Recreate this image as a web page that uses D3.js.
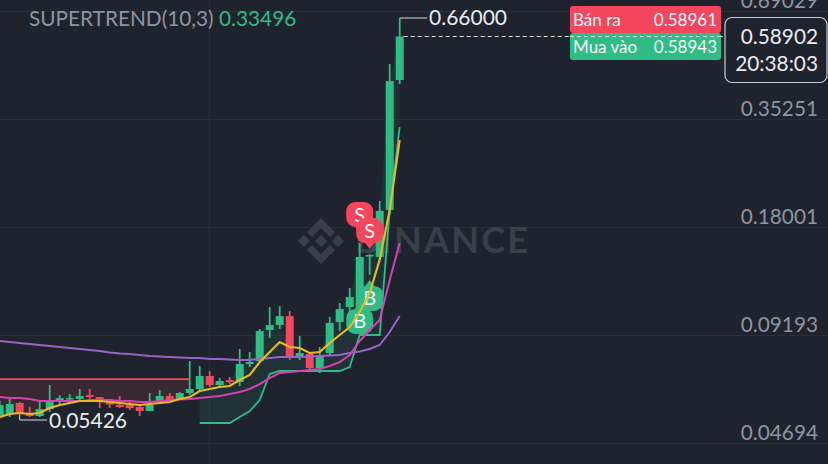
<!DOCTYPE html>
<html>
<head>
<meta charset="utf-8">
<script src="https://cdnjs.cloudflare.com/ajax/libs/d3/7.8.5/d3.min.js"></script>
<style>
html,body{margin:0;padding:0;background:#1f232d;overflow:hidden}
text{font-family:"Lato",sans-serif}
</style>
</head>
<body>
<div id="chart"></div>
<script>
var width = 828;
var height = 464;

var tickLabels = [0.69029, 0.35251, 0.18001, 0.09193, 0.04694];

// candles, oldest first
var opens = [.05587,.05622,.0602,.05622,.05552,.05799,.06133,.06171,.06171,.06326,.06248,.0602,.05945,.05945,.05871,.05727,.06095,.06287,.06133,.06407,.06568,.07121,.06733,.06946,.0686,.07674,.07819,.09482,.09781,.1034,.08016,.08167,.07485,.08217,.09966,.1094,.1041,.1503,.1494,.2001,.4492];
var closes = [.05945,.05982,.05657,.05552,.05799,.06057,.06209,.06209,.06287,.06248,.06095,.05982,.05871,.05835,.05727,.05945,.06287,.06095,.06407,.06568,.07121,.06733,.06903,.0686,.07674,.0777,.09424,.09781,.1034,.07967,.08217,.07485,.08117,.09904,.1080,.1164,.1494,.1512,.1989,.4464,.58902];
var highs = [.06095,.06171,.06057,.05871,.06057,.06733,.06326,.06366,.06568,.06568,.06248,.06171,.06287,.06095,.05945,.06407,.06527,.06407,.06447,.07819,.07579,.07347,.07033,.07077,.08424,.08269,.09541,.1094,.1100,.1067,.0913,.08217,.0853,.1028,.1122,.1232,.1629,.1521,.2116,.4962,.66];
var lows = [.05518,.05518,.05587,.05518,.05518,.05692,.05945,.05982,.06057,.06171,.05835,.05835,.05835,.05763,.05552,.05727,.06057,.06057,.06133,.06326,.06527,.0665,.0665,.06775,.06692,.07532,.0777,.0902,.09541,.07868,.07868,.07393,.07256,.08067,.09424,.1054,.1009,.1337,.1469,.1939,.4382];

var maFast = [.05518,.05622,.05657,.05622,.05657,.05835,.05945,.0602,.06095,.06095,.06095,.06057,.0602,.05982,.05945,.05982,.0602,.06057,.06171,.06248,.06487,.06568,.0665,.06692,.06946,.07166,.0777,.08269,.088,.0853,.08477,.08217,.08269,.08745,.09193,.0966,.1061,.1194,.1469,.2001,.3092];
var maMid = [.06248,.06209,.06209,.06171,.06095,.06095,.06095,.06095,.06095,.06133,.06133,.06133,.06095,.06095,.06057,.06057,.06095,.06133,.06152,.06171,.06209,.06248,.06287,.06366,.06447,.06568,.06775,.07033,.07256,.07301,.07347,.07393,.07439,.07579,.0777,.08117,.08855,.09482,.1009,.1295,.1629];
var maSlow = [.08855,.088,.08745,.0869,.08637,.08584,.0853,.08477,.08424,.08372,.0832,.08243,.08192,.08167,.08117,.08067,.08041,.08016,.07991,.07967,.07967,.07917,.07917,.07892,.07868,.07868,.07917,.07967,.08016,.08016,.08016,.08041,.08067,.08092,.08117,.08217,.08295,.08424,.08637,.09365,.1034];

// supertrend, red part then green part
var trendDown = [.06989,.06989,.06989,.06989,.06989,.06989,.06989,.06989,.06989,.06989,.06989,.06989,.06989,.06989,.06989,.06989,.06989,.06989,.06989,.06989];
var trendUp = [.05316,.05316,.05316,.05316,.05518,.05727,.06133,.0721,.07347,.07347,.07347,.07347,.07347,.07347,.07347,.07532,.09193,.09193,.09193,.2001,.33496];
var trendUpStart = 20;

var signalIndex = [36, 37, 36, 37];
var signalPrice = [.1734, .1569, .1122, .1295];
var signalType = ["S", "S", "B", "B"];

var green = "#2ebd85";
var red = "#f6465d";
var gridColor = "#2b2f39";

var svg = d3.select("#chart").append("svg")
    .attr("width", width)
    .attr("height", height)
    .style("display", "block");

var x = d3.scaleLinear().domain([0, 40]).range([-0.3, 399.7]);
var y = d3.scaleLog().domain([0.04694, 0.69029]).range([443, 11]);

// grid + price labels
var axis = svg.append("g")
    .call(d3.axisRight(y).tickValues(tickLabels).tickFormat(d3.format(".5f")).tickSize(width));
axis.select(".domain").remove();
axis.selectAll("line").attr("stroke", gridColor);
axis.selectAll("text")
    .attr("x", 818)
    .attr("dy", "-3.4px")
    .attr("text-anchor", "end")
    .attr("fill", "#8f95a0")
    .style("font-size", "20.8px");

svg.append("line")
    .attr("x1", x(21)).attr("x2", x(21))
    .attr("y1", 0).attr("y2", height)
    .attr("stroke", gridColor);

// watermark
var mark = svg.append("g").attr("transform", "translate(321,241)").attr("fill", "#393e49");
mark.append("path").attr("d", "M0,-6 L6,0 L0,6 L-6,0Z");
mark.append("path").attr("d", "M-23,0 L-17,-6 L-11,0 L-17,6Z");
mark.append("path").attr("d", "M23,0 L17,-6 L11,0 L17,6Z");
mark.append("path").attr("d", "M0,-23 L14,-9 L9,-4 L0,-13 L-9,-4 L-14,-9Z");
mark.append("path").attr("d", "M0,23 L14,9 L9,4 L0,13 L-9,4 L-14,9Z");
svg.append("text")
    .attr("x", 355).attr("y", 253)
    .attr("textLength", 173)
    .attr("fill", "#393e49")
    .style("font-size", "36px")
    .style("font-weight", 700)
    .text("BINANCE");

// supertrend fills
var idx = d3.range(opens.length);
svg.append("path")
    .datum(trendDown)
    .attr("fill", red).attr("fill-opacity", 0.12)
    .attr("d", d3.area()
        .x(function(d, i){return x(i);})
        .y0(function(d){return y(d);})
        .y1(function(d, i){return y(closes[i]);}));
svg.append("path")
    .datum(trendUp)
    .attr("fill", green).attr("fill-opacity", 0.1)
    .attr("d", d3.area()
        .x(function(d, i){return x(i + trendUpStart);})
        .y0(function(d){return y(d);})
        .y1(function(d, i){return y(closes[i + trendUpStart]);}));

// candles
var candles = svg.append("g");
candles.selectAll("line")
    .data(idx)
    .enter()
    .append("line")
    .attr("x1", function(d){return x(d);})
    .attr("x2", function(d){return x(d);})
    .attr("y1", function(d){return y(highs[d]);})
    .attr("y2", function(d){return y(lows[d]);})
    .attr("stroke-width", 1.8)
    .attr("stroke", function(d){return closes[d] >= opens[d] ? green : red;});
candles.selectAll("rect")
    .data(idx)
    .enter()
    .append("rect")
    .attr("x", function(d){return x(d) - 4;})
    .attr("width", 8)
    .attr("y", function(d){return y(Math.max(opens[d], closes[d]));})
    .attr("height", function(d){return Math.max(1.5, Math.abs(y(opens[d]) - y(closes[d])));})
    .attr("fill", function(d){return closes[d] >= opens[d] ? green : red;});

// signal pins, the lines run over them
signalIndex.forEach(function(d, i) {
    var isSell = signalType[i] == "S";
    var px = x(d);
    var py = y(signalPrice[i]);
    var dir = isSell ? -1 : 1;
    var g = svg.append("g").attr("transform", "translate(" + px + "," + py + ")");
    g.append("path")
        .attr("d", "M0,0 L-6," + (dir * 8) + " L6," + (dir * 8) + "Z")
        .attr("fill", isSell ? red : green);
    g.append("rect")
        .attr("x", -13.5).attr("width", 27)
        .attr("y", isSell ? -31 : 6).attr("height", 25)
        .attr("rx", 9)
        .attr("fill", isSell ? red : green);
    g.append("text")
        .attr("text-anchor", "middle")
        .attr("y", isSell ? -11.5 : 25.5)
        .attr("fill", "#fff")
        .style("font-size", "20px")
        .text(signalType[i]);
});

// lines
function drawLine(values, start, color, w) {
    svg.append("path")
        .datum(values)
        .attr("fill", "none")
        .attr("stroke", color)
        .attr("stroke-width", w)
        .attr("d", d3.line()
            .x(function(d, i){return x(i + start);})
            .y(function(d){return y(d);}));
}
drawLine(trendDown, 0, red, 1.8);
drawLine(trendUp, trendUpStart, green, 1.8);
drawLine(maSlow, 0, "#9a63c9", 2);
drawLine(maMid, 0, "#d83fb4", 2);
drawLine(maFast, 0, "#ecbb1a", 2.1);

// high / low callouts
svg.append("path")
    .attr("d", "M" + x(40) + "," + y(0.66) + " V18 H427")
    .attr("fill", "none").attr("stroke", "#d9dce1").attr("stroke-width", 1);
svg.append("text")
    .attr("x", 429).attr("y", 25)
    .attr("fill", "#eaecef")
    .style("font-size", "21px")
    .text("0.66000");
svg.append("path")
    .attr("d", "M" + x(2) + "," + y(0.05587) + " V420 H47")
    .attr("fill", "none").attr("stroke", "#d9dce1").attr("stroke-width", 1);
svg.append("text")
    .attr("x", 49).attr("y", 428)
    .attr("fill", "#eaecef")
    .style("font-size", "21px")
    .text("0.05426");

// header
var header = svg.append("text").attr("x", 29).attr("y", 26).style("font-size", "20.8px");
header.append("tspan").attr("fill", "#8f95a0").text("SUPERTREND(10,3) ");
header.append("tspan").attr("fill", green).text("0.33496");

// last price line
svg.append("line")
    .attr("x1", x(40) + 4).attr("x2", 725)
    .attr("y1", y(0.58902)).attr("y2", y(0.58902))
    .attr("stroke", "#e6e8ea")
    .attr("stroke-dasharray", "4,3");

// bid / ask box
svg.append("rect").attr("x", 570).attr("y", 6).attr("width", 151).attr("height", 27).attr("rx", 3).attr("fill", red);
svg.append("rect").attr("x", 570).attr("y", 33).attr("width", 151).attr("height", 27).attr("rx", 3).attr("fill", green);
svg.append("line").attr("x1", 570).attr("x2", 721)
    .attr("y1", y(0.58902)).attr("y2", y(0.58902))
    .attr("stroke", "#e6e8ea").attr("stroke-dasharray", "4,3");
[["Bán ra", "0.58961", 25.5], ["Mua vào", "0.58943", 52.5]].forEach(function(r) {
    svg.append("text").attr("x", 573).attr("y", r[2]).attr("fill", "#fff").style("font-size", "17px").text(r[0]);
    svg.append("text").attr("x", 717).attr("y", r[2]).attr("text-anchor", "end").attr("fill", "#fff").style("font-size", "17px").text(r[1]);
});

// current price box
svg.append("rect")
    .attr("x", 725).attr("y", 17.5).attr("width", 102).attr("height", 65).attr("rx", 7)
    .attr("fill", "#1f232d").attr("stroke", "#c8cbd0").attr("stroke-width", 1.2);
svg.append("text").attr("x", 818).attr("y", 44).attr("text-anchor", "end").attr("fill", "#eaecef").style("font-size", "20.8px").text("0.58902");
svg.append("text").attr("x", 818).attr("y", 71).attr("text-anchor", "end").attr("fill", "#eaecef").style("font-size", "20.8px").text("20:38:03");
</script>
</body>
</html>
